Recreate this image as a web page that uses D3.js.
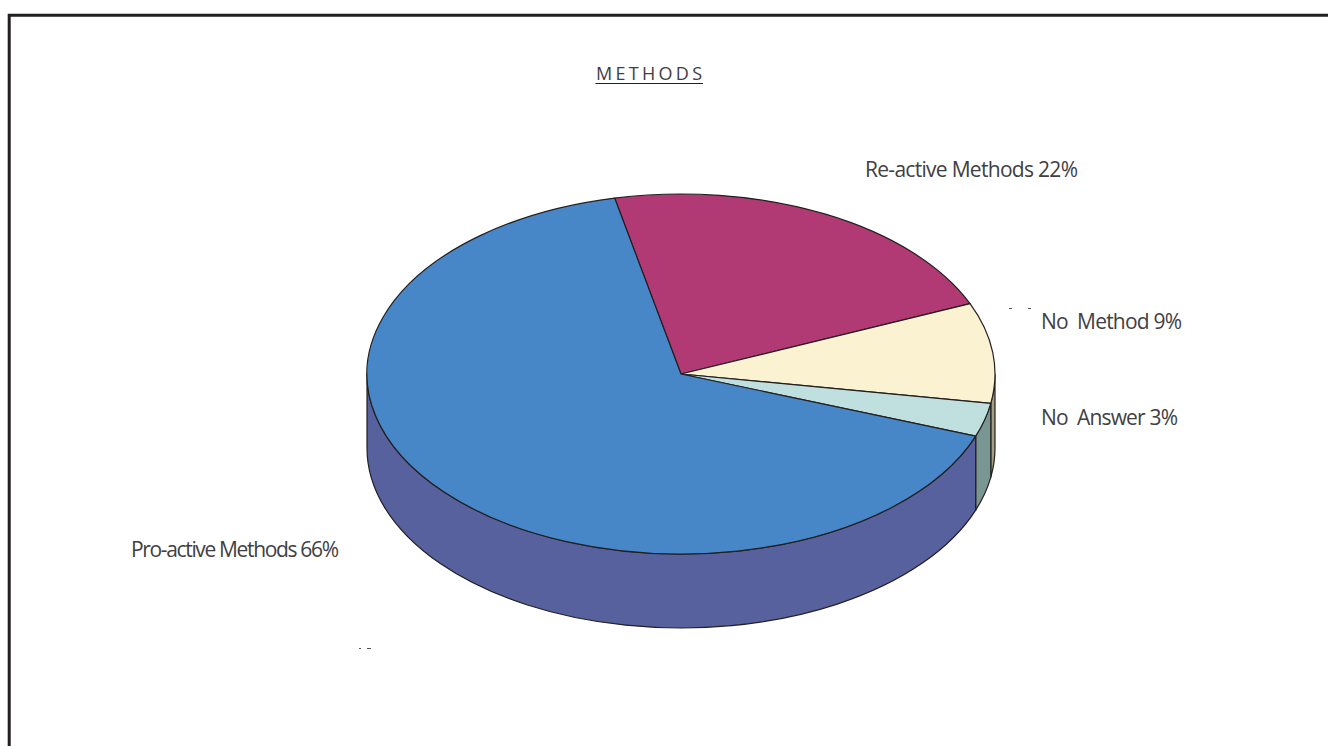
<!DOCTYPE html>
<html>
<head>
<meta charset="utf-8">
<script src="https://cdn.jsdelivr.net/npm/d3@7"></script>
<style>
html, body { margin: 0; padding: 0; background: #fff; overflow: hidden; }
svg { display: block; }
text { font-family: "Open Sans", sans-serif; fill: #414042; }
</style>
</head>
<body>
<div id="chart"></div>
<script>
// slices in drawing order, clockwise from the top
var categories = ["Re-active Methods", "No  Method", "No  Answer", "Pro-active Methods"];
var values = [22, 9, 3, 66];
var topColors = ["#b23a74", "#faf2d0", "#c0e0df", "#4787c8"];
var sideColors = ["#7d2952", "#a39f80", "#7a9692", "#56619e"];

var width = 1328, height = 746;
var cx = 681, cy = 374, rx = 314, ry = 180, depth = 74;
var startAngle = -12.2 * Math.PI / 180;

var svg = d3.select("#chart").append("svg")
	.attr("width", width)
	.attr("height", height);

// frame runs off the right and bottom of the picture
svg.append("path")
	.attr("d", "M9.2,746V15.2H1328")
	.attr("fill", "none")
	.attr("stroke", "#231f20")
	.attr("stroke-width", 3);

var xScale = d3.scaleLinear().domain([-1, 1]).range([cx - rx, cx + rx]);
var yScale = d3.scaleLinear().domain([-1, 1]).range([cy - ry, cy + ry]);

function px(a) { return xScale(Math.sin(a)); }
function py(a) { return yScale(-Math.cos(a)); }

var pie = d3.pie()
	.sort(null)
	.startAngle(startAngle)
	.endAngle(startAngle + 2 * Math.PI);

var slices = pie(values);

function arcTo(a, dy, sweep) {
	var span = a[1] - a[0];
	return "A" + rx + "," + ry + " 0 " + (span > Math.PI ? 1 : 0) + "," + sweep + " " + px(a[1]) + "," + (py(a[1]) + dy);
}

// the wall shows only on the front half of the ellipse
function sidePath(d) {
	var a0 = Math.max(d.startAngle, Math.PI / 2);
	var a1 = Math.min(d.endAngle, 3 * Math.PI / 2);
	if (a1 <= a0) return null;
	return "M" + px(a0) + "," + py(a0) +
		arcTo([a0, a1], 0, 1) +
		"L" + px(a1) + "," + (py(a1) + depth) +
		"A" + rx + "," + ry + " 0 " + (a1 - a0 > Math.PI ? 1 : 0) + ",0 " + px(a0) + "," + (py(a0) + depth) +
		"Z";
}

function topPath(d) {
	return "M" + cx + "," + cy +
		"L" + px(d.startAngle) + "," + py(d.startAngle) +
		arcTo([d.startAngle, d.endAngle], 0, 1) +
		"Z";
}

svg.append("g").selectAll("path")
	.data(slices.filter(function(d) { return sidePath(d); }))
	.enter().append("path")
	.attr("d", sidePath)
	.attr("fill", function(d) { return sideColors[d.index]; })
	.attr("stroke", "#231f20")
	.attr("stroke-width", 1.2)
	.attr("stroke-linejoin", "round");

svg.append("g").selectAll("path")
	.data(slices)
	.enter().append("path")
	.attr("d", topPath)
	.attr("fill", function(d) { return topColors[d.index]; })
	.attr("stroke", "#231f20")
	.attr("stroke-width", 1.2)
	.attr("stroke-linejoin", "round");

// title
svg.append("text")
	.attr("x", 596)
	.attr("y", 80)
	.attr("textLength", 106)
	.attr("lengthAdjust", "spacing")
	.style("font-size", "18px")
	.text("METHODS");

svg.append("line")
	.attr("x1", 595.5).attr("x2", 703)
	.attr("y1", 83.5).attr("y2", 83.5)
	.attr("stroke", "#231f20")
	.attr("stroke-width", 1);

// labels
var labelX = [865, 1041, 1041, 131];
var labelY = [177, 329, 425, 557];
var labelW = [213, 141, 137, 208];

svg.append("g").selectAll("text")
	.data(slices)
	.enter().append("text")
	.attr("x", function(d) { return labelX[d.index]; })
	.attr("y", function(d) { return labelY[d.index]; })
	.attr("textLength", function(d) { return labelW[d.index]; })
	.attr("lengthAdjust", "spacing")
	.style("font-size", "21px")
	.style("white-space", "pre")
	.text(function(d) { return categories[d.index] + " " + d.value + "%"; });

// stray print specks in the scan
var speckX = [1009, 1028, 359, 367];
var speckY = [308.5, 308.5, 648.5, 648.5];
var speckW = [3, 3, 2, 4];

svg.append("g").selectAll("line")
	.data(speckX)
	.enter().append("line")
	.attr("x1", function(d) { return d; })
	.attr("x2", function(d, i) { return d + speckW[i]; })
	.attr("y1", function(d, i) { return speckY[i]; })
	.attr("y2", function(d, i) { return speckY[i]; })
	.attr("stroke", "#555")
	.attr("stroke-width", 1);
</script>
</body>
</html>
